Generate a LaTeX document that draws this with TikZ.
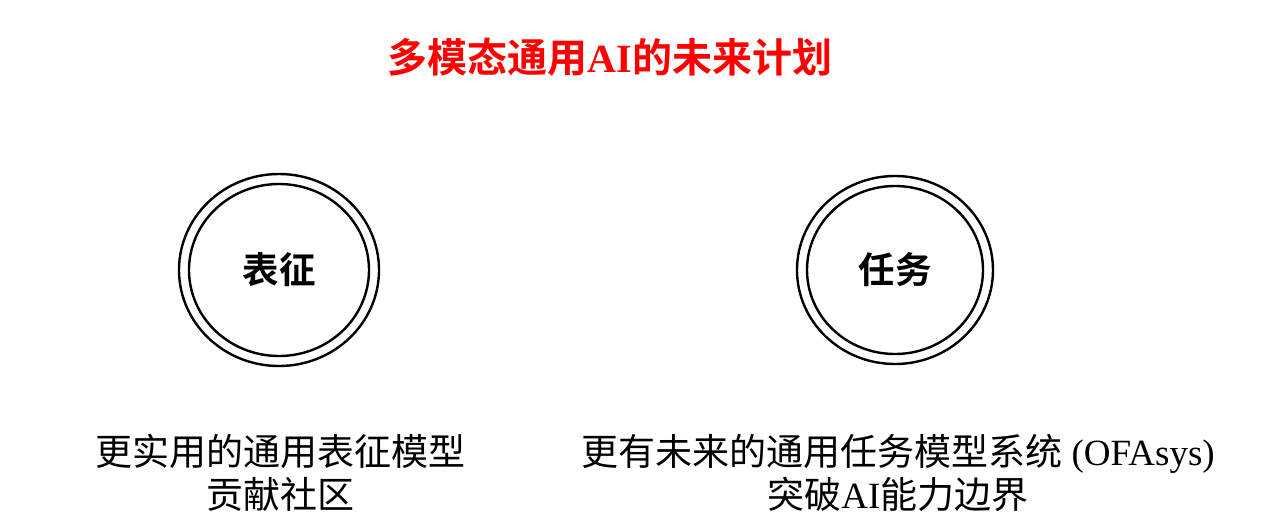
\documentclass[tikz,border=0pt]{standalone}
\usepackage{fontspec}
\setmainfont{Liberation Serif}
\newfontfamily\cjk{Noto Sans CJK SC}
\newfontfamily\cjkb{Noto Sans CJK SC}[UprightFont={* Bold}]
\newfontfamily\serifb{Liberation Serif}[UprightFont={* Bold}]
\begin{document}
\begin{tikzpicture}[x=1pt,y=-1pt,
  ring/.style={draw=black, line width=2.4pt},
  label/.style={font=\fontsize{37}{43}\selectfont, align=center, inner sep=0pt},
  titlestyle/.style={font=\fontsize{40}{44}\selectfont, text=red, inner sep=0pt},
  circlabel/.style={font=\fontsize{36.5}{40}\selectfont\cjkb, inner sep=0pt}]
\useasboundingbox (0,0) rectangle (1280,531);
\node[titlestyle] (title) at (610,57) {\cjkb 多模态通用\serifb AI\cjkb 的未来计划};
% left circle
\draw[ring] (279,270) ellipse [x radius=100, y radius=96];
\draw[ring] (279,270) ellipse [x radius=90, y radius=86];
\node[circlabel] (rep) at (279,270) {表征};
% right circle
\draw[ring] (895,270) ellipse [x radius=98, y radius=94];
\draw[ring] (895,270) ellipse [x radius=88, y radius=84];
\node[circlabel] (task) at (895,270) {任务};
\node[label] (left) at (280,473) {{\cjk 更实用的通用表征模型}\\{\cjk 贡献社区}};
\node[label] (right) at (898,473) {{\cjk 更有未来的通用任务模型系统} (OFAsys)\\{\cjk 突破}AI{\cjk 能力边界}};
\end{tikzpicture}
\end{document}
